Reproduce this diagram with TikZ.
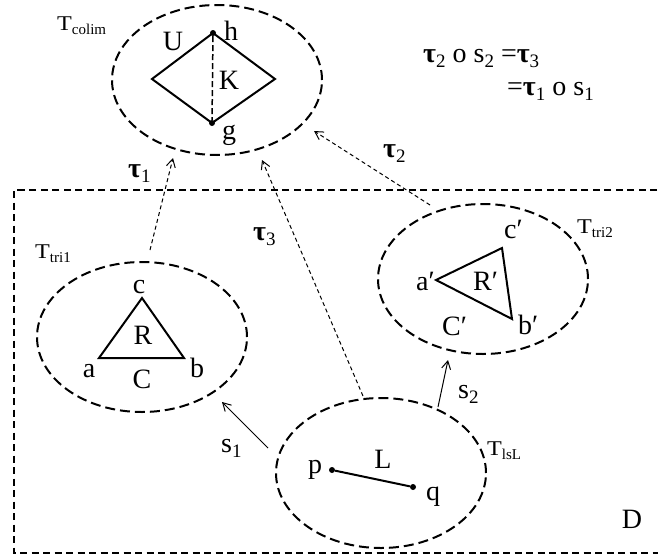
\documentclass[tikz,border=0pt]{standalone}
\usepackage{fontspec}
\setmainfont{Liberation Serif}
\usetikzlibrary{shapes.geometric,arrows.meta}
\newcommand{\bigf}{\fontsize{28}{30}\selectfont}
\newcommand{\Tf}{\fontsize{21}{22}\selectfont}
\newcommand{\Tlet}{\scalebox{1.15}[1]{T}}
\newcommand{\Tsub}[1]{\raisebox{-4pt}{\fontsize{15}{17}\selectfont #1}}
\newcommand{\tsub}[1]{\raisebox{-5pt}{\fontsize{19}{20}\selectfont #1}}
\newcommand{\tauv}{{\bfseries τ}}
\begin{document}
\begin{tikzpicture}[x=1pt,y=-1pt,
  region/.style={draw, ellipse, minimum width=210pt, minimum height=150pt, line width=2pt, dash pattern=on 10pt off 5pt, inner sep=0pt},
  lbl/.style={inner sep=0pt, anchor=base, font=\bigf},
  lblw/.style={inner sep=0pt, anchor=base west, font=\bigf},
  tl/.style={inner sep=0pt, anchor=base west, font=\Tf},
  edgeline/.style={line width=2pt, line join=miter},
  dotpt/.style={circle, fill, inner sep=0pt, minimum size=6pt},
  tauarrow/.style={dash pattern=on 4pt off 3pt, line width=1pt, -{Straight Barb[length=8pt,width=9pt]}},
  sarrow/.style={line width=1pt, -{Straight Barb[length=8pt,width=9pt]}}]
\useasboundingbox (0,0) rectangle (658,557);
\clip (0,0) rectangle (658,557);
\fill[white] (0,0) rectangle (658,557);
% frame D
\coordinate (dtr) at (680,190);
\coordinate (dtl) at (14,190);
\coordinate (dbl) at (14,553);
\coordinate (dbr) at (680,553);
\draw[line width=2.2pt, dash pattern=on 7pt off 4.5pt] (dtr) -- (dtl) -- (dbl) -- (dbr);
\node[lbl] (D) at (632,528) {D};
% regions
\node[region] (colim) at (217,80) {};
\node[region] (tri1) at (142,337) {};
\node[region] (tri2) at (483,279) {};
\node[region] (lsl) at (381,473) {};
% region labels
\node[tl] (Tcolim) at (57,30) {\Tlet\Tsub{colim}};
\node[tl] (Ttri1) at (35,258) {\Tlet\Tsub{tri1}};
\node[tl] (Ttri2) at (577,233) {\Tlet\Tsub{tri2}};
\node[tl] (TlsL) at (487,455) {\Tlet\Tsub{lsL}};
% colim diamond
\node[dotpt] (h) at (213,33) {};
\node[dotpt] (g) at (212,123) {};
\coordinate (dl) at (152,79);
\coordinate (dr) at (275,79);
\draw[edgeline] (h.center) -- (dr) -- (g.center) -- (dl) -- cycle;
\draw[line width=1.5pt, dash pattern=on 6pt off 3pt] (h) -- (g);
\node[lbl] (U) at (173,50) {U};
\node[lbl] (hl) at (231,40) {h};
\node[lbl] (K) at (229,89) {K};
\node[lbl] (gl) at (229,139) {g};
% tri1
\coordinate (c1) at (142,298);
\coordinate (a1) at (99,358);
\coordinate (b1) at (184,358);
\draw[edgeline] (c1) -- (b1) -- (a1) -- cycle;
\node[lbl] (cl) at (139,293) {c};
\node[lbl] (Rl) at (143,344) {R};
\node[lbl] (al) at (89,377) {a};
\node[lbl] (bl) at (197,377) {b};
\node[lbl] (Cl) at (142,388) {C};
% tri2
\coordinate (a2) at (436,280);
\coordinate (c2) at (502,248);
\coordinate (b2) at (512,319);
\draw[edgeline] (a2) -- (c2) -- (b2) -- cycle;
\node[lblw] (c2l) at (504,238) {c′};
\node[lblw] (a2l) at (416,290) {a′};
\node[lblw] (R2l) at (473,290) {R′};
\node[lblw] (C2l) at (442,335) {C′};
\node[lblw] (b2l) at (518,334) {b′};
% lsL
\node[dotpt] (p) at (332,470) {};
\node[dotpt] (q) at (413,487) {};
\draw[edgeline] (p) -- (q);
\node[lbl] (pl) at (315,473) {p};
\node[lbl] (Ll) at (383,468) {L};
\node[lbl] (ql) at (433,500) {q};
% arrows
\coordinate (t1s) at (150,250);
\coordinate (t1e) at (173,158);
\coordinate (t3s) at (363,396);
\coordinate (t3e) at (262,160);
\coordinate (t2s) at (430,205);
\coordinate (t2e) at (314,131);
\coordinate (s1s) at (268,448);
\coordinate (s1e) at (222,402);
\coordinate (s2s) at (438,407);
\coordinate (s2e) at (448,360);
\draw[tauarrow] (t1s) -- (t1e);
\draw[tauarrow] (t3s) -- (t3e);
\draw[tauarrow] (t2s) -- (t2e);
\draw[sarrow] (s1s) -- (s1e);
\draw[sarrow] (s2s) -- (s2e);
\node[lblw] (tau1) at (128,177) {\tauv\tsub{1}};
\node[lblw] (tau3) at (253,240) {\tauv\tsub{3}};
\node[lblw] (tau2) at (383,157) {\tauv\tsub{2}};
\node[lblw] (s1l) at (221,452) {s\tsub{1}};
\node[lblw] (s2l) at (458,398) {s\tsub{2}};
% equation
\node[lblw] (eq1) at (423,62) {\tauv\tsub{2} o s\tsub{2} =\tauv\tsub{3}};
\node[lblw] (eq2) at (507,95) {=\tauv\tsub{1} o s\tsub{1}};
\end{tikzpicture}
\end{document}
